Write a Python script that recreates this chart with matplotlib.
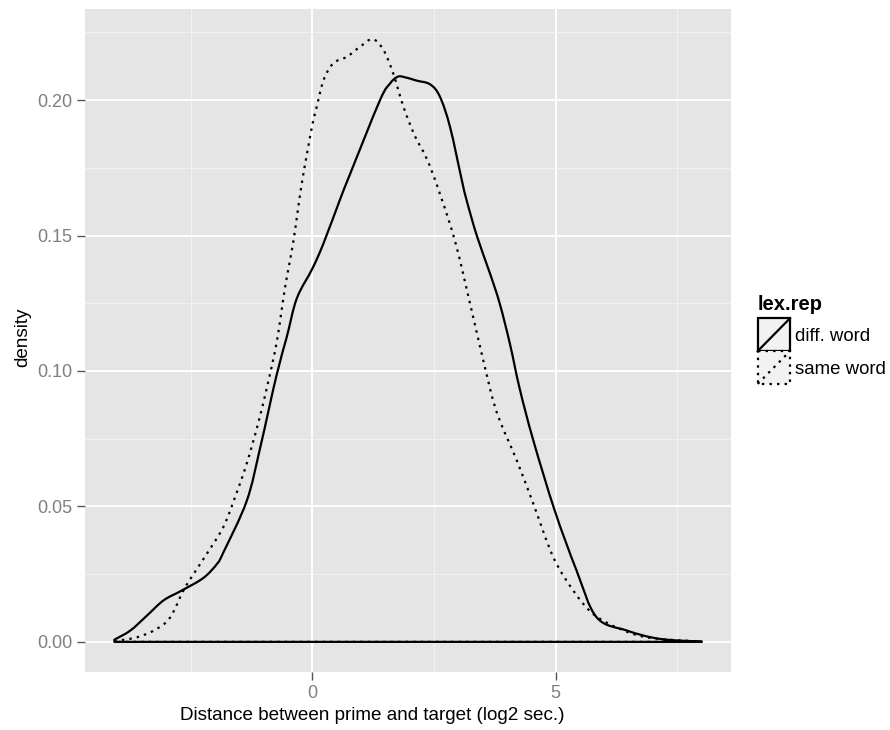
import numpy as np
import matplotlib
matplotlib.use("Agg")
import matplotlib.pyplot as plt
from matplotlib.patches import Rectangle, PathPatch
from matplotlib.path import Path
from matplotlib.lines import Line2D

plt.rcParams['font.family'] = ['Liberation Sans', 'DejaVu Sans']

# Density estimates of prime-target distance, split by lexical repetition
diff_x = [-4.07, -3.74, -3.40, -3.06, -2.68, -2.24, -1.96, -1.83, -1.35, -1.07,
          -0.745, -0.526, -0.32, 0.0, 0.226, 0.57, 0.77, 1.39, 1.60, 1.73,
          1.84, 2.14, 2.42, 2.62, 2.83, 3.07, 3.17, 3.38, 3.65, 3.85,
          4.06, 4.26, 4.54, 4.98, 5.43, 5.84, 6.46, 7.14, 8.0]
diff_density = [0.0008, 0.0042, 0.0097, 0.0153, 0.0190, 0.0236, 0.0288, 0.0330, 0.0520, 0.0719,
                0.0978, 0.1126, 0.1268, 0.1378, 0.1470, 0.1634, 0.1725, 0.2000, 0.2062, 0.2084,
                0.2087, 0.2072, 0.2058, 0.2013, 0.1900, 0.1705, 0.1630, 0.1499, 0.1360, 0.1249,
                0.1100, 0.0935, 0.0744, 0.0485, 0.0263, 0.0091, 0.0042, 0.0011, 0.0001]

same_x = [-4.07, -3.60, -3.20, -2.92, -2.65, -2.44, -2.17, -1.83, -1.59, -1.35,
          -1.11, -0.90, -0.73, -0.56, -0.39, -0.22, -0.01, 0.09, 0.23, 0.43,
          0.71, 0.98, 1.24, 1.46, 1.66, 1.87, 2.10, 2.42, 2.90, 3.24,
          3.65, 3.85, 4.20, 4.54, 4.95, 5.36, 5.77, 6.32, 6.93, 8.0]
same_density = [0.0003, 0.0017, 0.0048, 0.0091, 0.0190, 0.0251, 0.0325, 0.0424, 0.0534, 0.0658,
                0.0810, 0.0966, 0.1110, 0.1310, 0.1480, 0.1690, 0.1900, 0.1976, 0.2074, 0.2136,
                0.2160, 0.2197, 0.2225, 0.2185, 0.2099, 0.1976, 0.1870, 0.1754, 0.1499, 0.1249,
                0.0935, 0.0818, 0.0670, 0.0510, 0.0313, 0.0190, 0.0103, 0.0048, 0.0015, 0.0001]

groups = ["diff. word", "same word"]
legend_title = "lex.rep"
x_major = [0, 5]
x_minor = [-2.5, 2.5, 7.5]
y_major = [0.00, 0.05, 0.10, 0.15, 0.20]
y_minor = [0.025, 0.075, 0.125, 0.175, 0.225]
y_labels = ["0.00", "0.05", "0.10", "0.15", "0.20"]
x_title = "Distance between prime and target (log2 sec.)"
y_title = "density"

W, H = 890, 730
fig = plt.figure(figsize=(W / 100, H / 100), dpi=100)


def fx(px):
    return px / W


def fy(py):
    return 1 - py / H


def density_path(xv, yv):
    """Smooth outline through the points (Catmull-Rom as cubic Beziers),
    closed along the zero baseline like an area outline."""
    p = np.column_stack([xv, yv]).astype(float)
    ext = np.vstack([p[0], p, p[-1]])
    verts = [p[0]]
    codes = [Path.MOVETO]
    for i in range(len(p) - 1):
        p0, p1, p2, p3 = ext[i], ext[i + 1], ext[i + 2], ext[i + 3]
        c1 = p1 + (p2 - p0) / 6.0
        c2 = p2 - (p3 - p1) / 6.0
        c1[1] = max(c1[1], 0.0)
        c2[1] = max(c2[1], 0.0)
        verts += [c1, c2, p2]
        codes += [Path.CURVE4] * 3
    verts += [(p[-1, 0], 0.0), (p[0, 0], 0.0), p[0]]
    codes += [Path.LINETO, Path.LINETO, Path.CLOSEPOLY]
    return Path(verts, codes)


# panel
ax = fig.add_axes([fx(85), fy(672), (731 - 85) / W, (672 - 9) / H])
ax.set_facecolor('#E5E5E5')
for s in ax.spines.values():
    s.set_visible(False)

# ggplot-style 5% range expansion
all_x = np.concatenate([diff_x, same_x])
all_y = np.concatenate([diff_density, same_density, [0.0]])
xr = all_x.max() - all_x.min()
yr = all_y.max() - all_y.min()
ax.set_xlim(all_x.min() - 0.05 * xr, all_x.max() + 0.05 * xr)
ax.set_ylim(all_y.min() - 0.05 * yr, all_y.max() + 0.05 * yr)

ax.set_xticks(x_major)
ax.set_xticks(x_minor, minor=True)
ax.set_yticks(y_major)
ax.set_yticks(y_minor, minor=True)
ax.set_yticklabels(y_labels)
ax.set_xticklabels([str(v) for v in x_major])
ax.set_axisbelow(True)
ax.grid(which='major', color='white', linewidth=1.4)
ax.grid(which='minor', color='#F2F2F2', linewidth=0.7)
ax.tick_params(which='major', length=5.8, width=1.0, color='#555555',
               labelcolor='#7F7F7F', labelsize=13, pad=3.5)
ax.tick_params(which='minor', length=0)

LW = 1.6
DOT = (0, (1.1, 2.3))
styles = ['-', DOT]
series = [(diff_x, diff_density), (same_x, same_density)]
for (xv, dv), ls in zip(series, styles):
    ax.add_patch(PathPatch(density_path(xv, dv), facecolor='none',
                           edgecolor='black', linewidth=LW, linestyle=ls,
                           joinstyle='round', capstyle='butt'))

# axis titles
fig.text(fx(372.5), fy(720), x_title, ha='center', va='baseline',
         fontsize=13.6, color='black')
fig.text(fx(23), fy(337), y_title, ha='center', va='center', rotation=90,
         fontsize=13.6, color='black')

# legend drawn in pixel space
lax = fig.add_axes([0, 0, 1, 1])
lax.set_xlim(0, W)
lax.set_ylim(H, 0)
lax.axis('off')
lax.text(757.7, 310, legend_title, ha='left', va='baseline',
         fontsize=14.5, fontweight='bold', color='black')
key_x, key_w, key_h = 757.7, 32.3, 32.8
key_top = 318.3
for i, (lab, ls) in enumerate(zip(groups, styles)):
    y0 = key_top + i * key_h
    lax.add_patch(Rectangle((key_x, y0), key_w, key_h, facecolor='#F2F2F2',
                            edgecolor='none'))
    lax.add_patch(Rectangle((key_x, y0), key_w, key_h, facecolor='none',
                            edgecolor='black', linewidth=LW, linestyle=ls))
    lax.add_line(Line2D([key_x, key_x + key_w], [y0 + key_h, y0], color='black',
                        linewidth=LW, linestyle=ls))
    lax.text(key_x + key_w + 5, y0 + key_h / 2 + 1.5, lab, ha='left', va='center',
             fontsize=13.4, color='black')

fig.savefig('out.png', dpi=100)
